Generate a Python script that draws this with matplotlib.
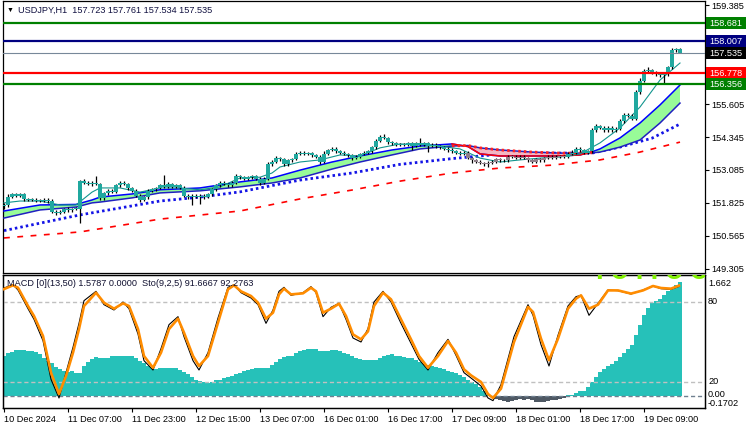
import numpy as np
import matplotlib.pyplot as plt
from matplotlib.patches import Rectangle

plt.rcParams['font.family'] = ['Liberation Sans', 'DejaVu Sans']

W, H = 750, 430
FS = 6.6

# hourly closes, USDJPY H1 (bar 0 = 10 Dec 15:00)
first_open = 151.70
closes = [
    151.75, 152.05, 152.15, 152.10, 152.15, 151.98, 151.95, 151.95, 151.90, 151.92,
    151.95, 151.90, 151.50, 151.45, 151.50, 151.60, 151.55, 151.60, 151.60, 152.65,
    152.60, 152.55, 152.60, 152.55, 152.00, 152.20, 152.30, 152.25, 152.50, 152.60,
    152.55, 152.40, 152.30, 152.10, 151.95, 152.05, 152.30, 152.35, 152.40, 152.50,
    152.45, 152.55, 152.45, 152.50, 152.40, 152.10, 152.05, 152.10, 152.05, 152.10,
    152.05, 152.15, 152.35, 152.50, 152.60, 152.55, 152.50, 152.60, 152.85, 152.80,
    152.75, 152.80, 152.85, 152.75, 152.60, 152.75, 153.30, 153.40, 153.55, 153.50,
    153.30, 153.45, 153.50, 153.70, 153.75, 153.70, 153.72, 153.65, 153.60, 153.40,
    153.70, 153.85, 153.90, 153.80, 153.75, 153.70, 153.65, 153.55, 153.60, 153.70,
    153.75, 153.80, 153.95, 154.20, 154.35, 154.30, 154.15, 154.10, 154.05, 154.08,
    154.05, 154.10, 154.00, 154.10, 154.05, 154.10, 154.00, 154.05, 154.00, 153.95,
    153.90, 153.85, 153.80, 153.75, 153.70, 153.75, 153.55, 153.45, 153.40, 153.35,
    153.30, 153.35, 153.40, 153.50, 153.45, 153.45, 153.60, 153.60, 153.55, 153.60,
    153.55, 153.45, 153.40, 153.50, 153.45, 153.55, 153.60, 153.55, 153.60, 153.62,
    153.60, 153.70, 153.75, 153.90, 153.85, 153.75, 153.80, 154.60, 154.75, 154.70,
    154.60, 154.70, 154.60, 154.65, 154.95, 155.20, 155.15, 155.05, 156.05, 156.50,
    156.85, 156.90, 156.80, 156.75, 156.70, 156.75, 157.00, 157.65, 157.723, 157.535,
]
up_wick = [
    0.08, 0.10, 0.06, 0.06, 0.05, 0.06, 0.05, 0.05, 0.05, 0.05,
    0.05, 0.05, 0.06, 0.06, 0.05, 0.05, 0.06, 0.05, 0.06, 0.05,
    0.10, 0.06, 0.05, 0.25, 0.05, 0.06, 0.05, 0.06, 0.06, 0.05,
    0.06, 0.05, 0.05, 0.05, 0.06, 0.05, 0.05, 0.06, 0.05, 0.06,
    0.40, 0.06, 0.05, 0.05, 0.05, 0.06, 0.05, 0.05, 0.05, 0.05,
    0.05, 0.05, 0.06, 0.05, 0.06, 0.05, 0.05, 0.06, 0.10, 0.06,
    0.05, 0.05, 0.06, 0.05, 0.05, 0.05, 0.10, 0.06, 0.06, 0.05,
    0.05, 0.05, 0.06, 0.06, 0.05, 0.05, 0.06, 0.05, 0.05, 0.06,
    0.12, 0.05, 0.06, 0.05, 0.05, 0.06, 0.05, 0.05, 0.05, 0.05,
    0.05, 0.06, 0.06, 0.05, 0.08, 0.12, 0.05, 0.05, 0.06, 0.05,
    0.05, 0.06, 0.05, 0.06, 0.20, 0.05, 0.05, 0.06, 0.05, 0.05,
    0.05, 0.05, 0.06, 0.05, 0.05, 0.06, 0.05, 0.05, 0.05, 0.05,
    0.05, 0.06, 0.06, 0.05, 0.05, 0.06, 0.05, 0.05, 0.05, 0.06,
    0.05, 0.05, 0.05, 0.06, 0.05, 0.05, 0.06, 0.05, 0.05, 0.05,
    0.05, 0.06, 0.10, 0.06, 0.05, 0.05, 0.05, 0.10, 0.08, 0.06,
    0.06, 0.06, 0.05, 0.06, 0.10, 0.08, 0.06, 0.06, 0.10, 0.10,
    0.10, 0.12, 0.06, 0.06, 0.06, 0.05, 0.06, 0.08, 0.038, 0.038,
]
dn_wick = [
    0.10, 0.06, 0.05, 0.06, 0.05, 0.06, 0.05, 0.06, 0.05, 0.05,
    0.05, 0.06, 0.06, 0.08, 0.05, 0.05, 0.06, 0.05, 0.06, 0.55,
    0.06, 0.05, 0.06, 0.05, 0.06, 0.05, 0.06, 0.05, 0.05, 0.06,
    0.05, 0.06, 0.05, 0.06, 0.08, 0.05, 0.06, 0.05, 0.05, 0.05,
    0.06, 0.05, 0.05, 0.06, 0.05, 0.06, 0.06, 0.30, 0.05, 0.25,
    0.06, 0.05, 0.05, 0.06, 0.05, 0.05, 0.06, 0.05, 0.06, 0.05,
    0.05, 0.06, 0.05, 0.06, 0.08, 0.05, 0.05, 0.06, 0.05, 0.06,
    0.08, 0.05, 0.06, 0.05, 0.05, 0.06, 0.05, 0.05, 0.06, 0.10,
    0.05, 0.06, 0.05, 0.05, 0.06, 0.05, 0.05, 0.08, 0.05, 0.05,
    0.05, 0.05, 0.06, 0.05, 0.06, 0.05, 0.06, 0.05, 0.05, 0.05,
    0.06, 0.05, 0.15, 0.05, 0.05, 0.06, 0.22, 0.05, 0.06, 0.05,
    0.05, 0.06, 0.05, 0.05, 0.06, 0.05, 0.06, 0.08, 0.06, 0.05,
    0.06, 0.10, 0.05, 0.06, 0.05, 0.06, 0.05, 0.05, 0.06, 0.05,
    0.06, 0.05, 0.06, 0.05, 0.06, 0.05, 0.05, 0.06, 0.05, 0.05,
    0.06, 0.05, 0.05, 0.05, 0.06, 0.05, 0.06, 0.05, 0.06, 0.05,
    0.05, 0.06, 0.05, 0.06, 0.05, 0.06, 0.05, 0.06, 0.06, 0.06,
    0.06, 0.08, 0.06, 0.06, 0.06, 0.35, 0.06, 0.05, 0.05, 0.001,
]

# moving averages (bar index, price)
band_x = [0, 9, 18, 22, 24, 32, 39, 49, 59, 67, 74, 82, 89, 97, 104, 112, 116, 119,
          124, 132, 139, 144, 147, 149, 154, 159, 164, 169]
band_fast = [151.52, 151.75, 151.77, 151.94, 152.05, 152.17, 152.33, 152.40, 152.63, 152.78,
             153.08, 153.39, 153.62, 153.85, 154.00, 154.08, 153.98, 153.70, 153.62, 153.62,
             153.62, 153.66, 153.78, 153.89, 154.31, 154.88, 155.57, 156.33]
band_slow = [151.25, 151.56, 151.67, 151.83, 151.86, 152.02, 152.21, 152.29, 152.44, 152.59,
             152.78, 153.12, 153.39, 153.66, 153.89, 154.00, 154.02, 153.93, 153.85, 153.77,
             153.73, 153.73, 153.74, 153.77, 153.96, 154.23, 154.88, 155.64]
fast_x = [0, 4, 9, 14, 18, 22, 24, 29, 34, 39, 44, 49, 54, 59, 64, 67, 69, 74, 79, 84,
          89, 94, 99, 107, 114, 119, 124, 129, 134, 139, 144, 149, 154, 159, 164, 169]
fast_ma = [151.83, 151.90, 151.90, 151.75, 151.75, 152.24, 152.40, 152.40, 152.24, 152.40,
           152.40, 152.33, 152.44, 152.78, 152.81, 152.97, 153.20, 153.39, 153.47, 153.66,
           153.62, 153.93, 154.08, 154.04, 153.89, 153.54, 153.39, 153.47, 153.54, 153.58,
           153.70, 154.12, 154.69, 155.49, 156.52, 157.17]
dot_x = [0, 19, 39, 49, 59, 74, 87, 99, 112, 124, 137, 147, 154, 162, 169]
dot_ma = [150.77, 151.37, 151.90, 152.05, 152.25, 152.70, 152.97, 153.30, 153.52, 153.69,
          153.73, 153.73, 153.96, 154.30, 154.84]
slow_x = [0, 19, 39, 59, 74, 87, 99, 112, 124, 137, 149, 159, 169]
slow_ma = [150.49, 150.72, 151.21, 151.52, 151.98, 152.32, 152.66, 152.97, 153.16, 153.27,
           153.47, 153.77, 154.15]

levels = [158.681, 158.007, 157.535, 156.778, 156.356]
level_colors = ['#008000', '#000080', '#778899', '#ff0000', '#008000']
level_widths = [1.6, 1.6, 0.8, 1.6, 1.6]
level_box = ['#008000', '#000080', '#000000', '#ff0000', '#008000']

price_ticks = [149.305, 150.565, 151.825, 153.085, 154.345, 155.605, 156.865, 158.125, 159.385]

# MACD histogram per bar
macd_hist = [
    0.58, 0.62, 0.64, 0.67, 0.67, 0.67, 0.66, 0.66, 0.64, 0.61,
    0.56, 0.51, 0.48, 0.43, 0.39, 0.36, 0.35, 0.36, 0.33, 0.33,
    0.44, 0.50, 0.54, 0.57, 0.56, 0.56, 0.56, 0.58, 0.58, 0.59,
    0.59, 0.59, 0.58, 0.56, 0.51, 0.48, 0.44, 0.41, 0.40, 0.41,
    0.41, 0.41, 0.41, 0.41, 0.38, 0.35, 0.32, 0.28, 0.24, 0.22,
    0.20, 0.19, 0.21, 0.23, 0.24, 0.26, 0.28, 0.29, 0.32, 0.34,
    0.36, 0.38, 0.40, 0.41, 0.41, 0.41, 0.41, 0.45, 0.50, 0.54,
    0.57, 0.58, 0.59, 0.62, 0.65, 0.67, 0.68, 0.68, 0.68, 0.66,
    0.66, 0.66, 0.67, 0.67, 0.66, 0.63, 0.61, 0.58, 0.56, 0.54,
    0.53, 0.52, 0.52, 0.52, 0.55, 0.58, 0.60, 0.61, 0.59, 0.58,
    0.57, 0.56, 0.55, 0.53, 0.50, 0.46, 0.45, 0.44, 0.43, 0.41,
    0.39, 0.37, 0.35, 0.33, 0.30, 0.27, 0.23, 0.21, 0.18, 0.13,
    0.07, 0.01, -0.02, -0.05, -0.06, -0.08, -0.09, -0.08, -0.06, -0.05,
    -0.06, -0.05, -0.06, -0.09, -0.09, -0.09, -0.07, -0.06, -0.06, -0.05,
    -0.03, 0.02, 0.02, 0.05, 0.08, 0.08, 0.13, 0.20, 0.28, 0.35,
    0.40, 0.44, 0.47, 0.51, 0.57, 0.63, 0.68, 0.74, 0.89, 1.04,
    1.18, 1.28, 1.36, 1.39, 1.42, 1.47, 1.53, 1.57, 1.62, 1.662,
]

# stochastic (9,2,5) read at these bar positions
stoch_x = [0, 2.25, 3.5, 6, 7.5, 9.75, 11.75, 13.75, 15.5, 17.25,
           18.75, 20, 23, 25, 27.5, 29.75, 31.25, 33.5, 35, 37.25,
           39.25, 41.25, 43.5, 45, 47.25, 48.75, 51, 53.5, 56, 57.5,
           59.25, 61.75, 63.5, 65.5, 67.25, 68.75, 70, 71.75, 74.75, 76.75,
           78, 79.75, 81.75, 83.75, 85.5, 87.25, 89.25, 91, 92.5, 94.75,
           96.75, 99.25, 101.75, 103.75, 106, 108.5, 111, 113, 115, 116.75,
           119.25, 121, 122.25, 124.25, 127.5, 131, 132.25, 134.25, 136.25, 138.5,
           141, 143, 144.25, 146.25, 148.5, 151, 153.5, 156.75, 159.75, 162.25,
           164.25, 166.75, 168.75]
stoch_signal = [89.7, 92.5, 90.7, 77, 69.5, 54.5, 27, 11, 24.5, 42,
                59.7, 77, 87, 79.5, 75, 79, 77, 59.7, 39.5, 30.7,
                42, 59.7, 67.5, 57, 39.5, 32, 39.5, 64.5, 89.5, 92.5,
                88, 84.5, 79.5, 67.5, 72, 85.7, 90, 85.7, 86.5, 90.7,
                88, 72, 75, 78.7, 69.5, 55.7, 52, 58, 77, 87,
                82, 67, 52, 39.5, 30.7, 39.5, 50.7, 42, 29.5, 25,
                20, 11, 8, 15, 50, 76.3, 72.5, 52.5, 36.3, 52.5,
                75, 82.5, 85, 75, 78, 88.7, 88.7, 86.3, 88.7, 92,
                90.5, 90, 92.3]
stoch_main = [90.5, 93, 89, 75, 67, 51, 22, 8, 27, 46,
              64, 81, 88, 78, 74, 80, 75, 56, 36, 29,
              45, 63, 69, 54, 36, 29, 42, 68, 91, 93,
              87, 83, 78, 64, 74, 88, 91, 85, 87, 91.5,
              87, 69, 76, 79, 67, 53, 50, 60, 80, 88,
              80, 64, 49, 37, 29, 42, 52, 40, 27, 23,
              17, 8, 6, 18, 54, 78, 70, 48, 32, 55,
              77, 84, 85, 70, 79, 89, 88.5, 86, 89, 92,
              90, 89.5, 91.7]

time_labels = ['10 Dec 2024', '11 Dec 07:00', '11 Dec 23:00', '12 Dec 15:00',
               '13 Dec 07:00', '16 Dec 01:00', '16 Dec 17:00', '17 Dec 09:00',
               '18 Dec 01:00', '18 Dec 17:00', '19 Dec 09:00']


def fx(px):
    return px / W


def fy(py):
    return 1 - py / H


n = len(closes)
idx = np.arange(n)
c = np.array(closes)
o = np.array([first_open] + closes[:-1])
hi = np.maximum(o, c) + np.array(up_wick)
lo = np.minimum(o, c) - np.array(dn_wick)

fig = plt.figure(figsize=(7.5, 4.3), dpi=100)
ax = fig.add_axes([fx(3), fy(273), 702 / W, 272 / H])
axi = fig.add_axes([fx(3), fy(408), 702 / W, 133 / H])
axs = axi.twinx()

# ---- price panel ----
ax.plot(slow_x, slow_ma, color='#ff0000', lw=1.2, ls=(0, (3.5, 4.5)), zorder=1)
ax.plot(dot_x, dot_ma, color='#1414e6', lw=2.0, ls=(0, (0.9, 1.1)), zorder=2)

bx = np.array(band_x, dtype=float)
bf = np.array(band_fast)
bs = np.array(band_slow)
ax.fill_between(bx, bf, bs, where=bf >= bs, interpolate=True, color='#98fb98', lw=0, zorder=2)
ax.fill_between(bx, bf, bs, where=bf < bs, interpolate=True, color='#f4b6c2', lw=0, zorder=2)
ax.plot(bx, bf, color='#0000ff', lw=1.1, zorder=3)
ax.plot(bx, bs, color='#2020c0', lw=1.1, zorder=3)
bear = bf < bs
seg = bear | np.r_[bear[1:], False] | np.r_[False, bear[:-1]]
ax.plot(np.where(seg, bx, np.nan), np.where(seg, bf, np.nan), color='#ff0000', lw=1.1, zorder=3)
ax.plot(np.where(seg, bx, np.nan), np.where(seg, bs, np.nan), color='#ff2020', lw=2.0,
        ls=(0, (0.9, 1.1)), zorder=3)

ax.plot(fast_x, fast_ma, color='#12958e', lw=0.8, zorder=3)

body_col = np.where((idx >= 116) & (idx <= 140), '#8f7f8a', '#20a89f')
ax.vlines(idx, lo, hi, color='black', lw=0.9, zorder=4)
ax.bar(idx, np.maximum(np.abs(c - o), 0.035), bottom=np.minimum(o, c), width=0.78,
       color=body_col, lw=0, zorder=5)

for lv, col, lw in zip(levels, level_colors, level_widths):
    ax.axhline(lv, color=col, lw=lw, zorder=6)

ax.set_xlim(-0.25, 175.25)
ax.set_ylim(149.152, 159.538)
ax.set_xticks([])
ax.yaxis.tick_right()
ax.set_yticks(price_ticks)
ax.set_yticklabels(['' if t in (156.865, 158.125) else f'{t:.3f}' for t in price_ticks])
ax.tick_params(axis='y', length=3, width=0.8, pad=1.5, labelsize=FS, colors='black')

for lv, col in zip(levels, level_box):
    yc = 5 + (159.385 - lv) * 26.19
    fig.patches.append(Rectangle((fx(706), fy(yc + 6)), 40 / W, 12 / H,
                                 transform=fig.transFigure, fc=col, ec='none', zorder=10))
    fig.text(fx(709), fy(yc), f'{lv:.3f}', color='white', fontsize=FS,
             va='center', ha='left', zorder=11)

fig.text(fx(6.5), fy(10.5), '\u25bc', fontsize=5, va='center', ha='left', color='black')
fig.text(fx(18), fy(10.5), 'USDJPY,H1  157.723 157.761 157.534 157.535',
         fontsize=FS, va='center', ha='left', color='#101040')

# ---- indicator panel ----
mh = np.array(macd_hist)
hcol = np.where(mh >= 0, '#26c1b9', '#4e5863')
axi.bar(idx, mh, width=0.78, color=hcol, lw=0, zorder=2)
axi.axhline(0, color='#708090', lw=1, ls=(0, (3, 2)), zorder=3)
axi.set_ylim(-0.175, 1.764)
axi.set_xlim(-0.25, 175.25)

axs.axhline(80, color='#c0c0c0', lw=1, ls=(0, (3, 2)), zorder=1)
axs.axhline(20, color='#c0c0c0', lw=1, ls=(0, (3, 2)), zorder=1)
axs.plot(stoch_x, stoch_main, color='black', lw=0.8, zorder=3)
axs.plot(stoch_x, stoch_signal, color='#ff8c00', lw=1.9, zorder=4)
axs.set_ylim(0.5, 100.25)
axs.set_yticks([])
axi.set_yticks([])

axi.set_xticks(np.arange(len(time_labels)) * 16)
axi.set_xticklabels(time_labels, ha='left', fontsize=FS)
axi.tick_params(axis='x', length=3, width=0.8, pad=2)

# lime watermark, only its lower edge shows below the panel top
wm = fig.text(fx(596), fy(279), 'I O I I O O', fontsize=15, fontweight='bold',
              color='#80f000', family='DejaVu Sans', va='baseline', ha='left')
wm.set_clip_path(axs.patch)

fig.text(fx(7), fy(283.5), 'MACD [0](13,50) 1.5787 0.0000  Sto(9,2,5) 91.6667 92.2763',
         fontsize=FS, va='center', ha='left', color='#101030')

for txt, py in [('1.662', 283), ('80', 302), ('20', 382), ('0.00', 394.5), ('-0.1702', 404)]:
    fig.text(fx(708), fy(py), txt, fontsize=FS, va='center', ha='left', color='black')

for a in (ax, axi, axs):
    for s in a.spines.values():
        s.set_linewidth(0.9)
        s.set_color('black')

fig.savefig('out.png', dpi=100, facecolor='white')
